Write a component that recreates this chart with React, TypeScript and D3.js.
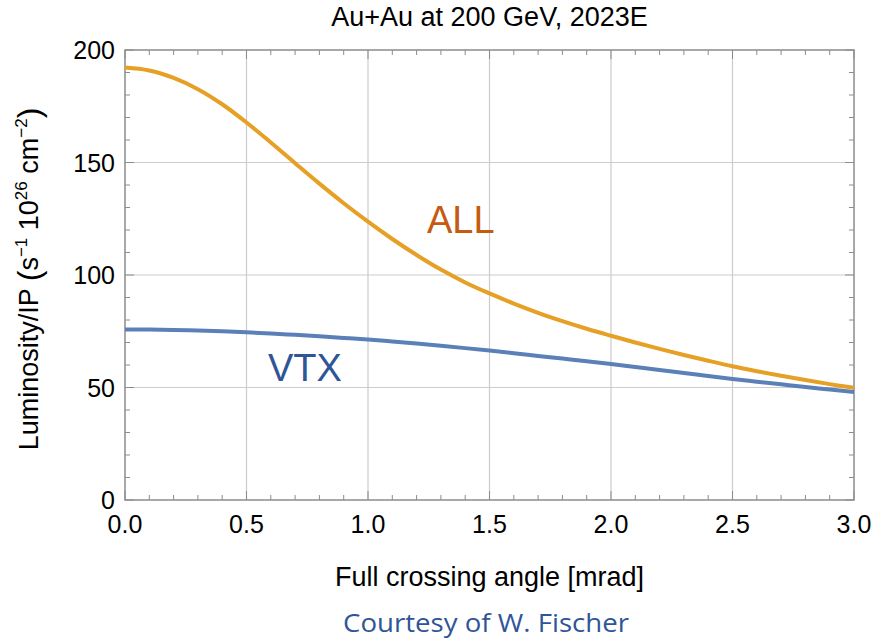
import React, { useEffect, useRef } from 'react';
import { select, scaleLinear, line, curveCatmullRom, range } from 'd3';

// crossing angle in mrad
const angles = [0, 0.1, 0.2, 0.3, 0.4, 0.5, 0.6, 0.7, 0.8, 0.9, 1.0, 1.1, 1.2, 1.3, 1.4, 1.5, 1.6, 1.7, 1.8, 1.9, 2.0, 2.1, 2.2, 2.3, 2.4, 2.5, 2.6, 2.7, 2.8, 2.9, 3.0];
const allLumi = [192.2, 190.9, 187.6, 182.6, 175.9, 167.8, 158.9, 149.7, 140.6, 131.9, 123.7, 116.0, 108.9, 102.4, 96.7, 91.8, 87.3, 83.2, 79.5, 76.1, 73.0, 70.0, 67.15, 64.45, 61.9, 59.45, 57.25, 55.2, 53.3, 51.5, 49.85];
const vtxLumi = [75.8, 75.75, 75.6, 75.35, 75.0, 74.55, 74.0, 73.4, 72.75, 72.05, 71.3, 70.45, 69.55, 68.55, 67.5, 66.4, 65.25, 64.05, 62.85, 61.65, 60.4, 59.1, 57.8, 56.45, 55.1, 53.8, 52.6, 51.4, 50.2, 49.1, 48.0];

const xTicks = [0, 0.5, 1.0, 1.5, 2.0, 2.5, 3.0];
const yTicks = [0, 50, 100, 150, 200];

const title = 'Au+Au at 200 GeV, 2023E';
const xLabel = 'Full crossing angle [mrad]';
const credit = 'Courtesy of W. Fischer';

const frameColor = '#8c8c8c';
const gridColor = '#cccccc';
const allColor = '#e5a025';
const vtxColor = '#5b80b8';
const font = '"Liberation Sans", Arial, sans-serif';

const App = () => {
  const svgRef = useRef(null);

  useEffect(() => {
    const svg = select(svgRef.current);
    svg.selectAll('*').remove();

    const left = 125, right = 854, top = 50, bottom = 500;
    const x = scaleLinear().domain([0, 3]).range([left, right]);
    const y = scaleLinear().domain([0, 200]).range([bottom, top]);

    // grid
    const grid = svg.append('g').attr('stroke', gridColor).attr('stroke-width', 1.2);
    grid.selectAll('.gx')
      .data(xTicks.slice(1, -1))
      .join('line')
      .attr('x1', (d) => x(d)).attr('x2', (d) => x(d))
      .attr('y1', top).attr('y2', bottom);
    grid.selectAll('.gy')
      .data(yTicks.slice(1, -1))
      .join('line')
      .attr('y1', (d) => y(d)).attr('y2', (d) => y(d))
      .attr('x1', left).attr('x2', right);

    // frame
    svg.append('rect')
      .attr('x', left).attr('y', top)
      .attr('width', right - left).attr('height', bottom - top)
      .attr('fill', 'none').attr('stroke', frameColor).attr('stroke-width', 1.5);

    // ticks on all four sides, pointing in
    const tk = svg.append('g').attr('stroke', frameColor).attr('stroke-width', 1);
    const xMinor = range(0, 31).map((i) => i / 10);
    const yMinor = range(0, 21).map((i) => i * 10);
    const len = (major) => (major ? 9 : 5);
    xMinor.forEach((v) => {
      const major = Math.round(v * 10) % 5 === 0;
      tk.append('line').attr('x1', x(v)).attr('x2', x(v)).attr('y1', bottom).attr('y2', bottom - len(major));
      tk.append('line').attr('x1', x(v)).attr('x2', x(v)).attr('y1', top).attr('y2', top + len(major));
    });
    yMinor.forEach((v) => {
      const major = v % 50 === 0;
      tk.append('line').attr('y1', y(v)).attr('y2', y(v)).attr('x1', left).attr('x2', left + len(major));
      tk.append('line').attr('y1', y(v)).attr('y2', y(v)).attr('x1', right).attr('x2', right - len(major));
    });

    // tick labels
    svg.selectAll('.xl')
      .data(xTicks)
      .join('text')
      .attr('x', (d) => x(d)).attr('y', 533)
      .attr('text-anchor', 'middle')
      .attr('font-family', font).attr('font-size', 25)
      .text((d) => d.toFixed(1));
    svg.selectAll('.yl')
      .data(yTicks)
      .join('text')
      .attr('x', 115).attr('y', (d) => y(d) + 9)
      .attr('text-anchor', 'end')
      .attr('font-family', font).attr('font-size', 25)
      .text((d) => d);

    // curves
    const mk = (vals) => line()
      .x((d, i) => x(angles[i]))
      .y((d) => y(d))
      .curve(curveCatmullRom)(vals);
    svg.append('path').attr('d', mk(vtxLumi)).attr('fill', 'none')
      .attr('stroke', vtxColor).attr('stroke-width', 4);
    svg.append('path').attr('d', mk(allLumi)).attr('fill', 'none')
      .attr('stroke', allColor).attr('stroke-width', 4);

    // curve labels
    svg.append('text').attr('x', 427).attr('y', 233)
      .attr('font-family', font).attr('font-size', 38).attr('fill', '#c55a11').text('ALL');
    svg.append('text').attr('x', 268).attr('y', 381)
      .attr('font-family', font).attr('font-size', 38).attr('fill', '#2f5597').text('VTX');

    // title + axis labels
    svg.append('text').attr('x', (left + right) / 2).attr('y', 26)
      .attr('text-anchor', 'middle').attr('font-family', font).attr('font-size', 27)
      .text(title);
    svg.append('text').attr('x', (left + right) / 2).attr('y', 586)
      .attr('text-anchor', 'middle').attr('font-family', font).attr('font-size', 27)
      .text(xLabel);

    const yl = svg.append('text')
      .attr('transform', `translate(38, 279) rotate(-90)`)
      .attr('text-anchor', 'middle').attr('font-family', font).attr('font-size', 27);
    yl.append('tspan').text('Luminosity/IP ');
    yl.append('tspan').attr('font-size', 32).attr('dy', 2).text('(');
    yl.append('tspan').attr('dy', -2).text('s');
    yl.append('tspan').attr('dy', -11).attr('font-size', 17).text('\u22121');
    yl.append('tspan').attr('dy', 11).text(' 10');
    yl.append('tspan').attr('dy', -11).attr('font-size', 17).text('26');
    yl.append('tspan').attr('dy', 11).text(' cm');
    yl.append('tspan').attr('dy', -11).attr('font-size', 17).text('\u22122');
    yl.append('tspan').attr('dy', 13).attr('font-size', 32).text(')');

    svg.append('text').attr('x', 486).attr('y', 632)
      .attr('text-anchor', 'middle').attr('font-family', '"Open Sans", sans-serif')
      .attr('font-size', 26).attr('fill', '#2f5597')
      .attr('textLength', 286).attr('lengthAdjust', 'spacingAndGlyphs')
      .text(credit);
  }, []);

  return (
    <svg
      ref={svgRef}
      width={884}
      height={641}
      style={{ position: 'absolute', left: 0, top: 0, background: '#fff' }}
    />
  );
};

export default App;
